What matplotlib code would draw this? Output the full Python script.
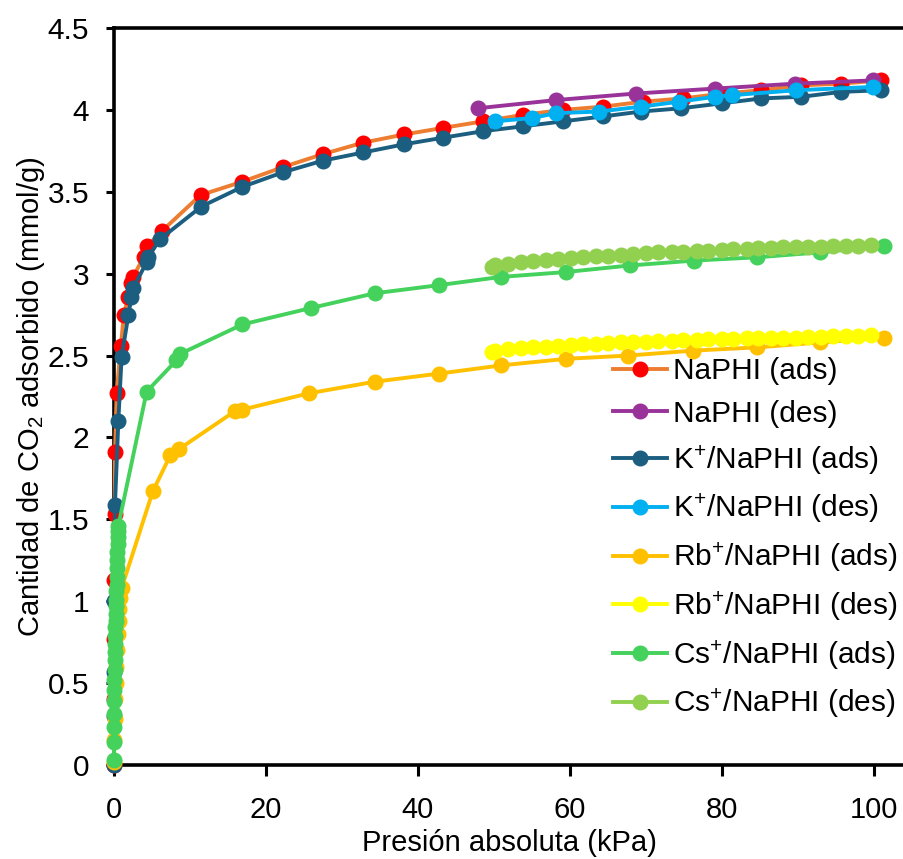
import matplotlib
matplotlib.use("Agg")
import matplotlib.pyplot as plt

plt.rcParams['font.family'] = ['Liberation Sans', 'DejaVu Sans']
plt.rcParams['mathtext.fontset'] = 'custom'
plt.rcParams['mathtext.rm'] = 'Liberation Sans'
plt.rcParams['mathtext.it'] = 'Liberation Sans'

# Isotherm data: absolute pressure (kPa) vs CO2 uptake (mmol/g)
naphi_ads_p = [0.0, 0.01, 0.02, 0.04, 0.1, 0.13, 0.35, 0.9, 1.3, 1.9, 2.2, 2.5, 3.9, 4.4, 6.3,
               11.4, 16.8, 22.2, 27.5, 32.8, 38.2, 43.3, 48.6, 53.9, 59.1, 64.4, 69.6, 74.9,
               80.2, 85.2, 90.5, 95.7, 101.0]
naphi_ads_q = [0.0, 0.40, 0.77, 1.13, 1.53, 1.91, 2.27, 2.56, 2.75, 2.86, 2.94, 2.98, 3.10, 3.17, 3.26,
               3.48, 3.56, 3.65, 3.73, 3.80, 3.85, 3.89, 3.93, 3.97, 4.00, 4.02, 4.05, 4.07,
               4.10, 4.12, 4.15, 4.16, 4.18]

naphi_des_p = [47.9, 58.2, 68.7, 79.1, 89.6, 99.9]
naphi_des_q = [4.01, 4.06, 4.10, 4.13, 4.16, 4.18]

k_ads_p = [0.0, 0.01, 0.03, 0.06, 0.13, 0.57, 1.0, 1.9, 2.3, 2.5, 4.3, 4.5, 6.05, 11.5, 16.9,
           22.3, 27.5, 32.8, 38.2, 43.3, 48.6, 53.9, 59.1, 64.4, 69.4, 74.7, 80.0, 85.2,
           90.5, 95.7, 101.0]
k_ads_q = [0.0, 0.30, 0.57, 1.00, 1.59, 2.10, 2.49, 2.75, 2.86, 2.91, 3.07, 3.10, 3.21, 3.41, 3.53,
           3.62, 3.69, 3.74, 3.79, 3.83, 3.87, 3.90, 3.93, 3.96, 3.99, 4.01, 4.04, 4.07,
           4.08, 4.11, 4.12]

k_des_p = [50.1, 55.0, 58.2, 63.9, 69.4, 74.4, 79.1, 81.4, 89.8, 99.9]
k_des_q = [3.93, 3.95, 3.98, 3.99, 4.02, 4.05, 4.08, 4.09, 4.12, 4.14]

rb_ads_p = [0.0, 0.05, 0.1, 0.15, 0.2, 0.3, 0.4, 0.5, 0.6, 0.7, 0.85, 1.0, 5.1, 7.4, 8.6,
            15.9, 16.9, 25.7, 34.3, 42.8, 51.0, 59.5, 67.7, 76.2, 84.7, 92.9, 101.4]
rb_ads_q = [0.02, 0.15, 0.28, 0.40, 0.50, 0.60, 0.70, 0.80, 0.88, 0.95, 1.02, 1.08, 1.67, 1.89, 1.93,
            2.16, 2.17, 2.27, 2.34, 2.39, 2.44, 2.48, 2.50, 2.53, 2.55, 2.58, 2.61]

rb_des_p = [49.7, 50.1, 51.9, 53.6, 55.2, 56.9, 58.5, 60.2, 61.7, 63.5, 65.0, 66.8, 68.3, 70.1,
            71.6, 73.4, 74.9, 76.7, 78.2, 80.0, 81.5, 83.3, 84.8, 86.5, 88.1, 89.8, 91.4, 93.1,
            94.6, 96.4, 97.9, 99.7]
rb_des_q = [2.52, 2.53, 2.54, 2.545, 2.55, 2.555, 2.56, 2.565, 2.57, 2.57, 2.575, 2.58, 2.585, 2.585,
            2.59, 2.59, 2.595, 2.595, 2.60, 2.60, 2.60, 2.605, 2.605, 2.61, 2.61, 2.61, 2.615, 2.615,
            2.62, 2.62, 2.62, 2.625]

cs_ads_p = [0.0, 0.01, 0.02, 0.03, 0.04, 0.05, 0.06, 0.08, 0.1, 0.12, 0.14, 0.16, 0.18, 0.2, 0.22,
            0.25, 0.28, 0.31, 0.34, 0.37, 0.4, 0.43, 0.46, 0.49, 0.52, 0.55, 0.57, 4.3, 8.2, 8.7,
            16.9, 25.9, 34.3, 42.8, 50.9, 59.5, 67.9, 76.4, 84.7, 92.9, 101.4]
cs_ads_q = [0.03, 0.14, 0.23, 0.31, 0.39, 0.46, 0.52, 0.58, 0.64, 0.69, 0.74, 0.79, 0.84, 0.88, 0.92,
            0.97, 1.01, 1.06, 1.10, 1.15, 1.20, 1.25, 1.30, 1.35, 1.39, 1.43, 1.46, 2.28, 2.47, 2.51,
            2.69, 2.79, 2.88, 2.93, 2.98, 3.01, 3.05, 3.08, 3.10, 3.13, 3.17]

cs_des_p = [49.7, 50.1, 51.9, 53.6, 55.2, 56.9, 58.5, 60.2, 61.7, 63.5, 65.0, 66.8, 68.3, 70.1,
            71.6, 73.4, 74.9, 76.7, 78.2, 80.0, 81.5, 83.3, 84.8, 86.5, 88.1, 89.8, 91.4, 93.1,
            94.6, 96.4, 97.9, 99.7]
cs_des_q = [3.04, 3.05, 3.06, 3.07, 3.08, 3.085, 3.09, 3.095, 3.10, 3.105, 3.11, 3.115, 3.12, 3.125,
            3.13, 3.13, 3.135, 3.14, 3.14, 3.145, 3.15, 3.15, 3.155, 3.155, 3.16, 3.16, 3.165, 3.165,
            3.17, 3.17, 3.17, 3.175]

series = [
    ("NaPHI (ads)", naphi_ads_p, naphi_ads_q, "#ED7D31", "#FF0000"),
    ("NaPHI (des)", naphi_des_p, naphi_des_q, "#993399", "#993399"),
    ("K$^{+}$/NaPHI (ads)", k_ads_p, k_ads_q, "#1B5E80", "#1B5E80"),
    ("K$^{+}$/NaPHI (des)", k_des_p, k_des_q, "#00B0F0", "#00B0F0"),
    ("Rb$^{+}$/NaPHI (ads)", rb_ads_p, rb_ads_q, "#FFC000", "#FFC000"),
    ("Rb$^{+}$/NaPHI (des)", rb_des_p, rb_des_q, "#FFFF00", "#FFFF00"),
    ("Cs$^{+}$/NaPHI (ads)", cs_ads_p, cs_ads_q, "#44D15C", "#44D15C"),
    ("Cs$^{+}$/NaPHI (des)", cs_des_p, cs_des_q, "#92D050", "#92D050"),
]

fig = plt.figure(figsize=(9.04, 8.59), dpi=100)
ax = fig.add_axes([114 / 904, 94 / 859, 790 / 904, 737 / 859])

for label, p, q, lc, mc in series:
    ax.plot(p, q, '-o', color=lc, lw=2.8, marker='o', ms=10.5,
            markerfacecolor=mc, markeredgecolor=mc, label=label,
            clip_on=False, zorder=3)

ax.set_xlim(0, 104)
ax.set_ylim(0, 4.5)
ax.set_xticks([0, 20, 40, 60, 80, 100])
ax.set_yticks([0, 0.5, 1, 1.5, 2, 2.5, 3, 3.5, 4, 4.5])
ax.set_yticklabels(["0", "0.5", "1", "1.5", "2", "2.5", "3", "3.5", "4", "4.5"])

for s in ("left", "bottom", "top"):
    ax.spines[s].set_linewidth(2.6)
    ax.spines[s].set_color("black")
ax.spines["right"].set_visible(False)

ax.tick_params(axis='y', direction='out', length=6, width=2.2, labelsize=21.5, pad=12)
ax.tick_params(axis='x', direction='out', length=8, width=2.2, labelsize=21, pad=14)

ax.set_xlabel("Presión absoluta (kPa)", fontsize=21, labelpad=4)
ax.set_ylabel("Cantidad de CO$_2$ adsorbido (mmol/g)", fontsize=21, labelpad=0)

leg = ax.legend(loc='upper left', bbox_to_anchor=(613 / 904, 1 - 357 / 859),
                bbox_transform=fig.transFigure, frameon=False, fontsize=21.5,
                handlelength=1.8, handletextpad=0.2, labelspacing=0.5,
                borderpad=0, borderaxespad=0)

fig.savefig("out.png", dpi=100)
